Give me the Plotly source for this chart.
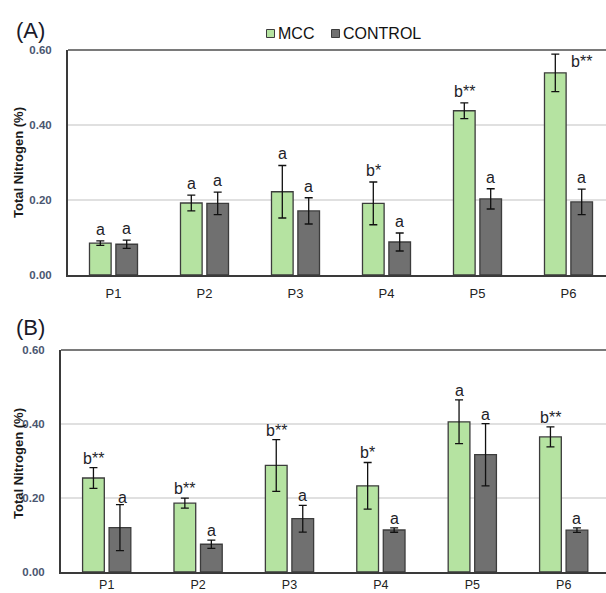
import plotly.graph_objects as go

categories = ["P1", "P2", "P3", "P4", "P5", "P6"]

# Panel A
a_mcc = [0.085, 0.192, 0.222, 0.191, 0.438, 0.539]
a_mcc_err = [0.006, 0.021, 0.070, 0.057, 0.021, 0.050]
a_ctl = [0.082, 0.191, 0.171, 0.088, 0.203, 0.195]
a_ctl_err = [0.011, 0.030, 0.035, 0.024, 0.027, 0.034]
a_mcc_lbl = ["a", "a", "a", "b*", "b**", "b**"]
a_ctl_lbl = ["a", "a", "a", "a", "a", "a"]

# Panel B
b_mcc = [0.254, 0.186, 0.288, 0.233, 0.406, 0.365]
b_mcc_err = [0.028, 0.0135, 0.070, 0.063, 0.059, 0.027]
b_ctl = [0.120, 0.075, 0.144, 0.1135, 0.317, 0.113]
b_ctl_err = [0.062, 0.011, 0.036, 0.006, 0.084, 0.006]
b_mcc_lbl = ["b**", "b**", "b**", "b*", "a", "b**"]
b_ctl_lbl = ["a", "a", "a", "a", "a", "a"]

yticks = [0.0, 0.2, 0.4, 0.6]
ytick_text = ["0.00", "0.20", "0.40", "0.60"]

GREEN = "#b5e3a1"
GREY = "#707070"
EDGE = "#3c3c3c"
W, H = 606, 593

fig = go.Figure()

def add_bars(vals, errs, color, name, xa, ya):
    fig.add_trace(go.Bar(
        x=categories, y=vals, name=name, xaxis=xa, yaxis=ya,
        marker=dict(color=color, line=dict(color=EDGE, width=1.3)),
        error_y=dict(type="data", array=errs, color="#111111", thickness=1.3, width=4),
        showlegend=False,
    ))

add_bars(a_mcc, a_mcc_err, GREEN, "MCC", "x", "y")
add_bars(a_ctl, a_ctl_err, GREY, "CONTROL", "x", "y")
add_bars(b_mcc, b_mcc_err, GREEN, "MCC", "x2", "y2")
add_bars(b_ctl, b_ctl_err, GREY, "CONTROL", "x2", "y2")

OFF = 13.25
ann = []
def add_labels(vals, errs, labels, xref, yref, side, yshift, special=None):
    special = special or {}
    for i, (v, e, t) in enumerate(zip(vals, errs, labels)):
        dx, dy, anchor = special.get(i, (0, yshift, "bottom"))
        ann.append(dict(x=categories[i], y=v + e, xref=xref, yref=yref, text=t,
                        showarrow=False, xshift=side * OFF + dx, yshift=dy,
                        yanchor=anchor, font=dict(size=16, color="#1e1e28",
                                                  family="Liberation Sans, Arial")))

add_labels(a_mcc, a_mcc_err, a_mcc_lbl, "x", "y", -1, 1, special={5: (26, -7, "middle")})
add_labels(a_ctl, a_ctl_err, a_ctl_lbl, "x", "y", 1, 1)
add_labels(b_mcc, b_mcc_err, b_mcc_lbl, "x2", "y2", -1, -1)
add_labels(b_ctl, b_ctl_err, b_ctl_lbl, "x2", "y2", 1, -1, special={0: (3, -3, "bottom")})

# panel letters and y titles
for txt, y in [("(A)", 30), ("(B)", 327)]:
    ann.append(dict(x=14 / W, y=1 - y / H, xref="paper", yref="paper", text=txt,
                    showarrow=False, xanchor="left", yanchor="middle",
                    font=dict(size=22, color="#1a1a2a", family="Liberation Sans, Arial")))
for y in [163, 464]:
    ann.append(dict(x=18 / W, y=1 - y / H, xref="paper", yref="paper",
                    text="<b>Total Nitrogen (%)</b>", textangle=-90, showarrow=False,
                    xanchor="center", yanchor="middle",
                    font=dict(size=13, color="#1a1a1a", family="Liberation Sans, Arial")))

# legend (custom)
shapes = []
leg = [("MCC", GREEN, 266.5), ("CONTROL", GREY, 331.5)]
for name, col, x0 in leg:
    shapes.append(dict(type="rect", xref="paper", yref="paper",
                       x0=x0 / W, x1=(x0 + 8) / W, y0=1 - 37.5 / H, y1=1 - 29.5 / H,
                       fillcolor=col, line=dict(color=EDGE, width=1)))
    ann.append(dict(x=(x0 + 9) / W, y=1 - 33 / H, xref="paper", yref="paper", text=name,
                    showarrow=False, xanchor="left", yanchor="middle",
                    font=dict(size=16, color="#111111", family="Liberation Sans, Arial")))

ytick_font = dict(size=11.5, color="#4a5670", family="Liberation Sans, Arial")

def xaxis(domain, rng, anchor, standoff, fsize):
    return dict(domain=domain, range=rng, anchor=anchor, type="category",
                showline=True, linecolor="#3a3a3a", linewidth=2, mirror=False,
                showgrid=False, ticks="", fixedrange=True,
                tickfont=dict(size=fsize, color="#222222", family="Liberation Sans, Arial"),
                ticklabelstandoff=standoff, automargin=False)

def yaxis(domain, anchor):
    return dict(domain=domain, anchor=anchor, range=[0, 0.6], tickvals=yticks,
                ticktext=["<b>%s</b>" % t for t in ytick_text], tickfont=ytick_font,
                showline=True, linecolor="#3a3a3a", linewidth=2,
                showgrid=True, gridcolor="#e0e0e0", gridwidth=1.5,
                zeroline=False, ticks="", ticklabelstandoff=12, automargin=False)

# top borders
for ytop, xl in [(50, 68), (350, 61)]:
    shapes.append(dict(type="line", xref="paper", yref="paper",
                       x0=xl / W, x1=1, y0=1 - ytop / H, y1=1 - ytop / H,
                       line=dict(color="#7a7a7a", width=2)))

fig.update_layout(
    width=W, height=H,
    margin=dict(l=0, r=0, t=0, b=0),
    paper_bgcolor="white", plot_bgcolor="white",
    barmode="group", bargap=0.42, bargroupgap=0.18,
    xaxis=xaxis([68 / W, 1], [-0.5, -0.5 + (W - 68) / 91.0], "y", 5, 13),
    yaxis=yaxis([1 - 275 / H, 1 - 50 / H], "x"),
    xaxis2=xaxis([61 / W, 1], [-0.5, -0.5 + (W - 61) / 91.4], "y2", 0, 12.5),
    yaxis2=yaxis([1 - 572 / H, 1 - 350 / H], "x2"),
    annotations=ann, shapes=shapes,
    showlegend=False,
)

fig.write_html("out.html")
